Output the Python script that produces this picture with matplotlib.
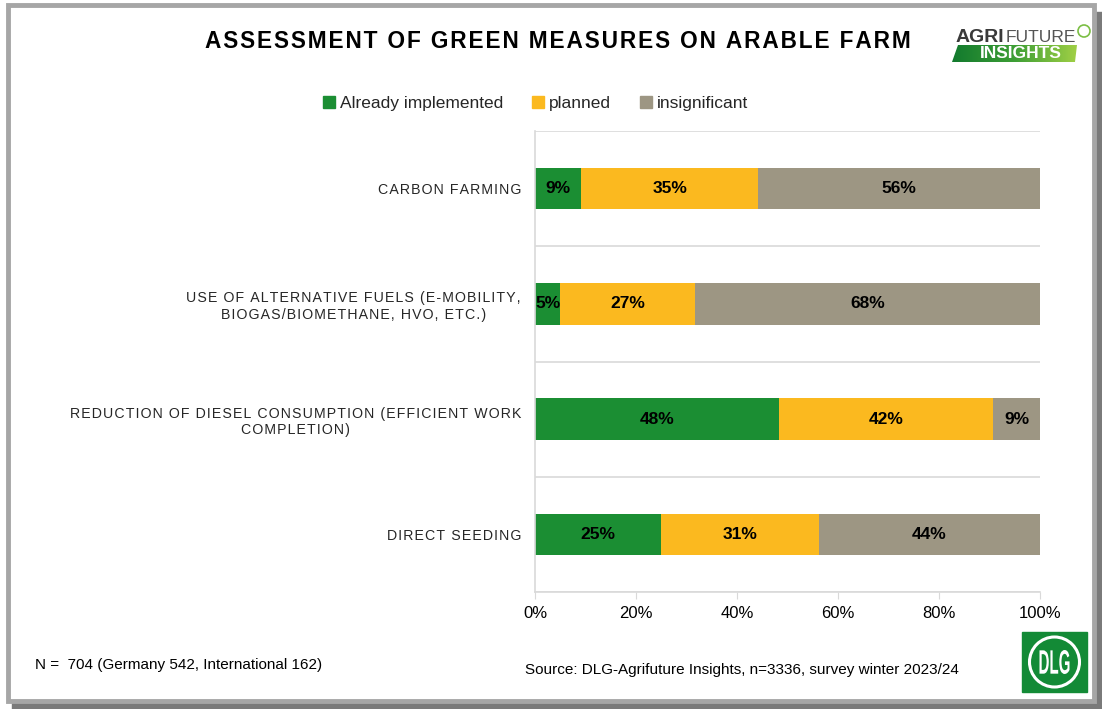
import matplotlib.pyplot as plt
import numpy as np
from matplotlib.patches import Rectangle, Polygon, Ellipse, PathPatch
from matplotlib.textpath import TextPath
from matplotlib.font_manager import FontProperties
from matplotlib.transforms import Affine2D
from matplotlib.lines import Line2D

plt.rcParams['font.family'] = ['Liberation Sans', 'DejaVu Sans']

categories = ["CARBON FARMING",
              "USE OF ALTERNATIVE FUELS (E-MOBILITY,\nBIOGAS/BIOMETHANE, HVO, ETC.)",
              "REDUCTION OF DIESEL CONSUMPTION (EFFICIENT WORK\nCOMPLETION)",
              "DIRECT SEEDING"]
implemented = [9.1, 5.0, 48.3, 24.9]
planned = [35.1, 26.6, 42.4, 31.3]
insignificant = [55.8, 68.4, 9.3, 43.8]
series_names = ["Already implemented", "planned", "insignificant"]
colors = ["#1b8e33", "#fbb91f", "#9d9683"]
xticks = [0, 20, 40, 60, 80, 100]

W, H = 1102, 709


def spaced(s, sep="\u200a"):
    # fake letter spacing
    return "\n".join(sep.join(list(line)) for line in s.split("\n"))


fig = plt.figure(figsize=(W / 100, H / 100), dpi=100)
fig.patch.set_facecolor("white")

# frame with shadow
fig.patches.append(Rectangle((12 / W, 0), 1 - 12 / W, 6 / H, transform=fig.transFigure,
                             color="#7a7a7a", zorder=0))
fig.patches.append(Rectangle((1 - 6 / W, 0), 6 / W, 1 - 12 / H, transform=fig.transFigure,
                             color="#7a7a7a", zorder=0))
fig.patches.append(Rectangle((8 / W, 8 / H), 1 - 16 / W, 1 - 13 / H, transform=fig.transFigure,
                             fill=False, ec="#a6a6a6", lw=3.5, zorder=1))

ax = fig.add_axes([535 / W, 1 - 592 / H, 505 / W, 461 / H])
y = np.arange(len(categories))
left = np.zeros(len(categories))
for vals, name, c in zip([implemented, planned, insignificant], series_names, colors):
    vals = np.array(vals)
    ax.barh(y, vals, left=left, height=0.36, color=c, label=name, zorder=2)
    for yi, l, v in zip(y, left, vals):
        ax.text(l + v / 2, yi, f"{v:.0f}%", ha="center", va="center",
                fontsize=12.5, fontweight="bold", color="black", zorder=3)
    left += vals

ax.set_xlim(0, 100)
ax.set_ylim(len(categories) - 0.5, -0.5)
for b in np.arange(-0.5, len(categories), 1.0):
    ax.axhline(b, color="#d9d9d9", lw=1.2, zorder=1)
ax.set_xticks(xticks)
ax.set_xticklabels([f"{t}%" for t in xticks], fontsize=12)
ax.tick_params(axis="x", length=5, color="#d9d9d9", pad=5)
ax.set_yticks(y)
ax.set_yticklabels([spaced(c, "\u200a") for c in categories], fontsize=10.2,
                   color="#262626", multialignment="center")
ax.tick_params(axis="y", length=0, pad=10)
for s in ["top", "right"]:
    ax.spines[s].set_visible(False)
for s in ["left", "bottom"]:
    ax.spines[s].set_color("#d9d9d9")
    ax.spines[s].set_linewidth(1.2)

handles = [Line2D([], [], marker="s", ls="", color=c, markersize=8) for c in colors]
fig.legend(handles, series_names, loc="center", bbox_to_anchor=(536 / W, 1 - 103 / H),
           ncol=3, frameon=False, fontsize=12.5, handlelength=0.6, handletextpad=0.35,
           columnspacing=1.7, labelcolor="#262626")

fig.text(558 / W, 1 - 41 / H, spaced("ASSESSMENT OF GREEN MEASURES ON ARABLE FARM", "\u200a"),
         ha="center", va="center", fontsize=16.3, fontweight="bold", color="black")

fig.text(35 / W, 1 - 665 / H, "N =  704 (Germany 542, International 162)",
         ha="left", va="center", fontsize=11, color="black")
fig.text(525 / W, 1 - 670 / H, "Source: DLG-Agrifuture Insights, n=3336, survey winter 2023/24",
         ha="left", va="center", fontsize=11, color="black")

# AgriFuture Insights logo
fig.text(956 / W, 1 - 37 / H, "AGRI", ha="left", va="center", fontsize=14,
         fontweight="bold", color="#3a3a3a")
fig.text(1006 / W, 1 - 37 / H, "FUTURE", ha="left", va="center", fontsize=12.5,
         color="#555555")
fig.patches.append(Ellipse((1084 / W, 1 - 31 / H), 12 / W, 12 / H, transform=fig.transFigure,
                           fill=False, ec="#7cbf45", lw=1.2))
banner = Polygon([(958 / W, 1 - 45 / H), (1077 / W, 1 - 45 / H),
                  (1075 / W, 1 - 62 / H), (952 / W, 1 - 62 / H)],
                 closed=True, transform=fig.transFigure, fc="none", ec="none")
fig.patches.append(banner)
gax = fig.add_axes([952 / W, 1 - 62 / H, 125 / W, 17 / H])
gax.axis("off")
grad = gax.imshow(np.linspace(0, 1, 100).reshape(1, -1), aspect="auto",
                  cmap=plt.matplotlib.colors.LinearSegmentedColormap.from_list(
                      "g", ["#127a2e", "#3d9e35", "#9fcf45"]),
                  extent=[0, 1, 0, 1])
grad.set_clip_path(banner)
fig.text(1021 / W, 1 - 53.5 / H, "INSIGHTS", ha="center", va="center", fontsize=12.5,
         fontweight="bold", color="white")

# DLG logo
fig.patches.append(Rectangle((1022 / W, 1 - 692 / H), 65 / W, 60 / H,
                             transform=fig.transFigure, color="#138a36"))
fig.patches.append(Ellipse((1054.5 / W, 1 - 662 / H), 50 / W, 50 / H,
                           transform=fig.transFigure, fill=False, ec="white", lw=2.2))
tp = TextPath((0, 0), "DLG", size=10, prop=FontProperties(family="Liberation Sans", weight="bold"))
bb = tp.get_extents()
# squeeze the letters into a tall, narrow shape (pixel units)
sx, sy = 30 / bb.width, 24 / bb.height
tr = (Affine2D().translate(-bb.x0 - bb.width / 2, -bb.y0 - bb.height / 2)
      .scale(sx, sy).translate(1054.5, H - 662))
fig.patches.append(PathPatch(tr.transform_path(tp), transform=None, fc="white", ec="none"))

fig.savefig("out.png", dpi=100)
